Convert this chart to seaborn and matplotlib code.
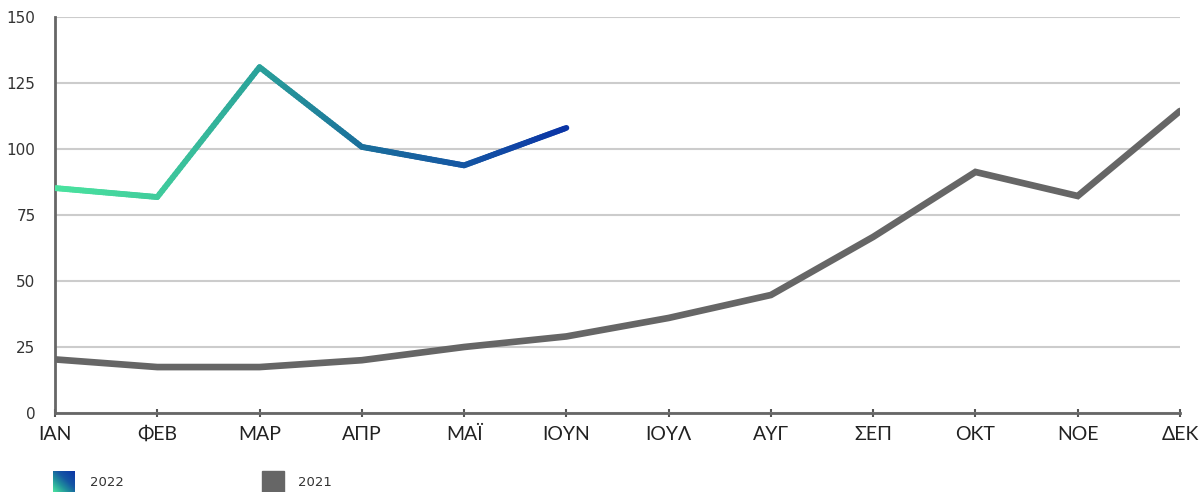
import numpy as np
import pandas as pd
import matplotlib
matplotlib.use("Agg")
import matplotlib.pyplot as plt
from matplotlib.collections import LineCollection
from matplotlib.colors import LinearSegmentedColormap
import seaborn as sns

months = ["ΙΑΝ", "ΦΕΒ", "ΜΑΡ", "ΑΠΡ", "ΜΑΪ", "ΙΟΥΝ", "ΙΟΥΛ", "ΑΥΓ", "ΣΕΠ", "ΟΚΤ", "ΝΟΕ", "ΔΕΚ"]
values_2022 = [85.2, 81.8, 131.0, 100.8, 93.8, 108.0]
values_2021 = [20.3, 17.4, 17.4, 20.0, 25.0, 29.0, 36.0, 44.7, 66.7, 91.3, 82.2, 114.4]
yticks = [0, 25, 50, 75, 100, 125, 150]

sns.set_theme(style="white")
plt.rcParams['font.family'] = ['Lato', 'DejaVu Sans']

fig = plt.figure(figsize=(12.01, 4.92), dpi=100)
ax = fig.add_axes([55/1201, 1-413/492, (1180-55)/1201, (413-17)/492])

df21 = pd.DataFrame({"x": np.arange(len(values_2021)), "y": values_2021})
df22 = pd.DataFrame({"x": np.arange(len(values_2022)), "y": values_2022})

sns.lineplot(data=df21, x="x", y="y", ax=ax, color="#666666", linewidth=4.8,
             solid_joinstyle="miter", zorder=3)
sns.lineplot(data=df22, x="x", y="y", ax=ax, color="#2aa19a", linewidth=4.2, zorder=4)

# replace 2022 line with gradient version
cmap = LinearSegmentedColormap.from_list(
    "g22", [(0.0, "#4ae39f"), (0.2, "#40cc9c"), (0.4, "#2aa19a"),
            (0.6, "#1a6f9b"), (0.8, "#1557a3"), (1.0, "#0b35a6")])
line22 = ax.lines[-1]
xd, yd = line22.get_xdata(), line22.get_ydata()
xs, ys = [], []
for i in range(len(xd) - 1):
    t = np.linspace(0, 1, 40, endpoint=False)
    xs.extend(xd[i] + (xd[i+1]-xd[i]) * t)
    ys.extend(yd[i] + (yd[i+1]-yd[i]) * t)
xs.append(xd[-1]); ys.append(yd[-1])
xs = np.array(xs); ys = np.array(ys)
pts = np.column_stack([xs, ys]).reshape(-1, 1, 2)
segs = np.concatenate([pts[:-1], pts[1:]], axis=1)
lc = LineCollection(segs, cmap=cmap, linewidth=4.2, capstyle="round", zorder=4)
lc.set_array((xs[:-1] - xs.min()) / (xs.max() - xs.min()))
line22.remove()
ax.add_collection(lc)

ax.set_xlim(0, 11)
ax.set_ylim(0, 150)
ax.set_xticks(range(len(months)))
ax.set_xticklabels(months, fontsize=14, color="#222222")
ax.set_yticks(yticks)
ax.set_yticklabels([str(v) for v in yticks], fontsize=11, color="#333333",
                   family=["DejaVu Sans"])
ax.set_xlabel("")
ax.set_ylabel("")
ax.grid(axis="y", color="#cccccc", linewidth=1.5)
ax.set_axisbelow(True)
for s in ["top", "right"]:
    ax.spines[s].set_visible(False)
for s in ["left", "bottom"]:
    ax.spines[s].set_color("#666666")
    ax.spines[s].set_linewidth(2)
ax.tick_params(axis="x", which="major", direction="inout", length=6, width=1.5,
               color="#555555", pad=6, bottom=True)
ax.tick_params(axis="y", length=0, pad=14)

# legend
grad = np.add.outer(np.linspace(0, 1, 50)[::-1], np.linspace(0, 1, 50)) / 2
lax = fig.add_axes([53/1201, 1-492/492, 22/1201, 21/492])
lax.imshow(grad, cmap=LinearSegmentedColormap.from_list(
    "lg", [(0.0, "#4ae39f"), (0.35, "#1f8f9c"), (0.6, "#1557a3"), (1.0, "#0b35a6")]),
    aspect="auto", origin="upper")
lax.axis("off")
fig.patches.append(plt.Rectangle((262/1201, 0), 22/1201, 21/492, transform=fig.transFigure,
                                 color="#666666", figure=fig))
fig.text(90/1201, 1-482/492, "2022", fontsize=9.5, va="center", color="#333333",
         family=["DejaVu Sans"])
fig.text(298/1201, 1-482/492, "2021", fontsize=9.5, va="center", color="#333333",
         family=["DejaVu Sans"])

fig.savefig("out.png", dpi=100)
